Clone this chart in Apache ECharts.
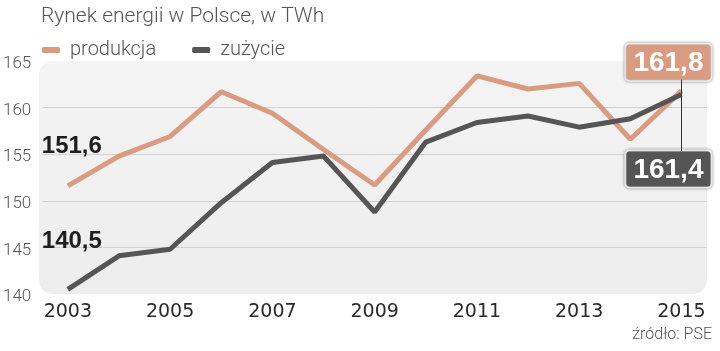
<!DOCTYPE html>
<html>
<head>
<meta charset="utf-8">
<script src="https://cdn.jsdelivr.net/npm/echarts@6/dist/echarts.min.js"></script>
<style>
  html, body { margin: 0; padding: 0; background: #fff; }
  #chart { width: 720px; height: 351px; }
</style>
</head>
<body>
<div id="chart"></div>
<script>
const years = ['2003', '2004', '2005', '2006', '2007', '2008', '2009', '2010', '2011', '2012', '2013', '2014', '2015'];
const produkcja = [151.6, 154.8, 156.9, 161.7, 159.4, 155.5, 151.7, 157.6, 163.4, 162.0, 162.6, 156.6, 161.8];
const zuzycie = [140.5, 144.1, 144.8, 149.8, 154.1, 154.8, 148.8, 156.3, 158.4, 159.1, 157.9, 158.8, 161.4];

const salmon = '#db9b81';
const dark = '#555555';
const numFont = '"Liberation Sans", Arial, sans-serif';

const fmt = v => v.toFixed(1).replace('.', ',');

// grid box, also used for the rounded background
const box = { left: 39, top: 61, right: 13, bottom: 57 };

function buildData(values, firstLabel, lastLabel) {
  const last = values.length - 1;
  return values.map((v, i) => {
    if (i === 0) return { value: v, label: firstLabel };
    if (i === last) return { value: v, label: lastLabel };
    return v;
  });
}

const firstLabelBase = {
  show: true,
  position: 'top',
  distance: 5,
  color: '#1f1f1f',
  fontFamily: numFont,
  fontWeight: 'bold',
  fontSize: 24,
  formatter: p => fmt(p.value)
};

const lastLabelBase = {
  show: true,
  distance: 11,
  offset: [-13, 0],
  color: '#fff',
  fontFamily: numFont,
  fontWeight: 'bold',
  fontSize: 28,
  lineHeight: 29,
  padding: [4, 7, 2, 7],
  borderColor: '#fff',
  borderWidth: 2,
  borderRadius: 3,
  shadowColor: 'rgba(0,0,0,0.45)',
  shadowBlur: 3,
  formatter: p => fmt(p.value)
};

const chart = echarts.init(document.getElementById('chart'));
chart.setOption({
  animation: false,
  title: [{
    text: 'Rynek energii w Polsce, w TWh',
    left: 36,
    top: 1,
    textStyle: { fontFamily: 'Roboto', fontWeight: 300, fontSize: 21, color: '#555' }
  }, {
    text: 'źródło: PSE',
    right: 3,
    bottom: 3,
    textStyle: { fontFamily: 'Roboto', fontWeight: 300, fontSize: 16, color: '#555' }
  }],
  legend: {
    left: 37,
    top: 35,
    icon: 'roundRect',
    itemWidth: 18,
    itemHeight: 6,
    itemGap: 36,
    textStyle: { fontFamily: 'Roboto', fontWeight: 300, fontSize: 20, color: '#555', padding: [0, 0, 0, 5] },
    data: ['produkcja', 'zużycie']
  },
  graphic: {
    elements: [{
      type: 'rect',
      z: -10,
      silent: true,
      shape: { x: box.left, y: box.top, width: 720 - box.left - box.right, height: 351 - box.top - box.bottom, r: 14 },
      style: {
        fill: new echarts.graphic.LinearGradient(0, 0, 0, 1, [
          { offset: 0, color: '#f4f4f4' },
          { offset: 1, color: '#ededed' }
        ])
      }
    }]
  },
  grid: box,
  xAxis: {
    type: 'category',
    data: years,
    boundaryGap: true,
    axisLine: { show: false },
    axisTick: { show: false },
    axisLabel: {
      interval: 1,
      margin: 9,
      fontFamily: '"DejaVu Sans", sans-serif',
      fontSize: 19,
      color: '#2a2a2a'
    }
  },
  yAxis: {
    type: 'value',
    min: 140,
    max: 165,
    interval: 5,
    axisLine: { show: false },
    axisTick: { show: false },
    axisLabel: {
      margin: 11,
      align: 'right',
      verticalAlign: 'top',
      lineHeight: 6,
      fontFamily: 'Roboto',
      fontWeight: 300,
      fontSize: 17,
      color: '#555'
    },
    splitLine: {
      showMinLine: false,
      showMaxLine: false,
      lineStyle: { color: '#d2d2d2', width: 1 }
    }
  },
  series: [{
    name: 'produkcja',
    type: 'line',
    z: 3,
    symbol: 'circle',
    symbolSize: 0,
    color: salmon,
    lineStyle: { color: salmon, width: 5 },
    data: buildData(produkcja,
      Object.assign({}, firstLabelBase, { offset: [4, -23] }),
      Object.assign({}, lastLabelBase, { position: 'top', backgroundColor: salmon })
    )
  }, {
    name: 'zużycie',
    type: 'line',
    z: 4,
    symbol: 'circle',
    symbolSize: 0,
    color: dark,
    lineStyle: { color: dark, width: 5 },
    data: buildData(zuzycie,
      Object.assign({}, firstLabelBase, { offset: [4, -31] }),
      Object.assign({}, lastLabelBase, { position: 'bottom', distance: 57, backgroundColor: dark })
    ),
    markLine: {
      silent: true,
      symbol: 'none',
      label: { show: false },
      lineStyle: { color: '#333', width: 1, type: 'solid' },
      data: [[
        { xAxis: years[years.length - 1], yAxis: produkcja[produkcja.length - 1] + 1.2 },
        { xAxis: years[years.length - 1], yAxis: zuzycie[zuzycie.length - 1] - 6.1 }
      ]]
    }
  }]
});
</script>
</body>
</html>
